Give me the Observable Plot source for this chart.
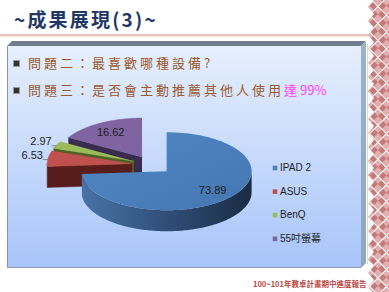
<!DOCTYPE html>
<html><head><meta charset="utf-8">
<script src="https://cdn.jsdelivr.net/npm/d3@7"></script>
<script src="https://cdn.jsdelivr.net/npm/@observablehq/plot@0.6"></script>
<style>
html,body{margin:0;padding:0;background:#fff;}
#slide{position:relative;width:389px;height:292px;overflow:hidden;background:#fff;font-family:"Noto Sans CJK TC","Noto Sans CJK SC",sans-serif;}
#title{position:absolute;left:14px;top:6px;font-size:19px;line-height:26px;font-weight:700;color:#1f3864;letter-spacing:2.2px;white-space:nowrap;}
#rule{position:absolute;left:0;top:34px;width:370px;height:2px;background:#e9c3bb;}
#rule2{position:absolute;left:0;top:36px;width:370px;height:1px;background:#f7e6e2;}
#bevelTop{position:absolute;left:7px;top:41px;width:360px;height:5px;background:#6e7e8e;clip-path:polygon(0 5px,5px 0,359px 0,354px 5px);}
#bevelRight{position:absolute;left:361px;top:41px;width:6px;height:227px;background:linear-gradient(#9fb1c8,#8ea5c4);clip-path:polygon(0 5px,5px 0,5px 222px,0 227px);}
#greenLine{position:absolute;left:367px;top:44px;width:1px;height:220px;background:#cfe4b9;}
#box{position:absolute;left:7px;top:46px;width:353px;height:221px;background:linear-gradient(#e6effd,#a8c5fa);border-left:1px solid #8797ab;border-bottom:1px solid #8c9db3;}
#deco{position:absolute;left:368px;top:0;width:21px;height:292px;overflow:hidden;}
#decoInner{position:absolute;left:-200px;top:-60px;width:420px;height:420px;transform:rotate(45deg);
 background:
  linear-gradient(#fff 1px,transparent 1px) 0 0/12px 12px,
  linear-gradient(90deg,#fff 1px,transparent 1px) 0 0/12px 12px,
  conic-gradient(#c47a7a 25%,#e0b0b0 0 50%,#c47a7a 0 75%,#e0b0b0 0) 0 0/12px 12px;}
.sq{position:absolute;width:5px;height:5px;background:#333;border:1px solid #999;}
.tx{position:absolute;left:28px;font-size:13px;line-height:16px;color:#9a5a2b;letter-spacing:3px;white-space:nowrap;}
.hl{color:#ff3dff;}
.num{letter-spacing:0;}
#footer{position:absolute;left:253px;top:279px;font-size:7.5px;line-height:10px;font-weight:700;color:#b8453f;white-space:nowrap;}
#chart{position:absolute;left:0;top:0;width:389px;height:292px;}
</style></head><body>
<svg width="0" height="0" style="position:absolute">
 <defs>
  <linearGradient id="sideBlue" x1="0" x2="1" y1="0" y2="0">
   <stop offset="0" stop-color="#4873a6"/>
   <stop offset="0.55" stop-color="#2d4b73"/>
   <stop offset="1" stop-color="#1a2b43"/>
  </linearGradient>
  <linearGradient id="topBlue" x1="0" x2="1" y1="0" y2="1">
   <stop offset="0" stop-color="#5087c4"/>
   <stop offset="1" stop-color="#4577b2"/>
  </linearGradient>
 </defs>
</svg>
<div id="slide">
 <div id="title">~成果展現(3)~</div>
 <div id="rule"></div><div id="rule2"></div>
 <div id="box"></div>
 <div id="bevelTop"></div>
 <div id="bevelRight"></div>
 <div id="greenLine"></div>
 <div id="deco"><div id="decoInner"></div></div>
 <div class="sq" style="left:13px;top:60px"></div>
 <div class="tx" style="top:55px">問題二：最喜歡哪種設備?</div>
 <div class="sq" style="left:13px;top:87px"></div>
 <div class="tx" style="top:82px">問題三：是否會主動推薦其他人使用<span class="hl">達<span class="num">99%</span></span></div>
 <div id="footer">100~101年教卓計畫期中進度報告</div>
 <div id="chart"></div>
</div>
<script>
// ---- data ----
const categories = ["IPAD 2", "ASUS", "BenQ", "55吋螢幕"];
const values = [73.89, 6.53, 2.97, 16.62];
// ---- palette ----
const topColors = ["url(#topBlue)", "#c0504d", "#9bbb59", "#8064a2"];
const swatchColors = ["#4f81bd", "#c0504d", "#9bbb59", "#8064a2"];
const sideColors = ["url(#sideBlue)", "#581d1b", "#4e6226", "#3a2c4f"];

// zigzag edge of the decoration strip
(function(){
  const left = [];
  for (let y = 0; y <= 294; y += 7) left.push(`${(y / 7) % 2 ? 0 : 6}px ${y}px`);
  document.getElementById("deco").style.clipPath =
    `polygon(21px 0, 21px 292px, ${left.reverse().join(",")})`;
})();

// ---- layout ----
const W = 389, H = 292;
const C = {x: 151.5, y: 164.5}, RX = 85, RY = 39, DEPTH = 21, EXPLODE = 20;
const K = RY / RX;
const P = (c, a, t, dz = 0) => ({x: c.x + t * RX * Math.sin(a), y: c.y - t * RY * Math.cos(a) + dz});
const arcPts = (c, a0, a1, dz) => {
  const n = Math.max(2, Math.ceil((a1 - a0) / 0.02));
  return d3.range(n + 1).map(i => P(c, a0 + (a1 - a0) * i / n, 1, dz));
};

const arcs = d3.pie().sort(null).startAngle(0).endAngle(2 * Math.PI)(values);
const slices = arcs.map((a, i) => {
  const mid = (a.startAngle + a.endAngle) / 2;
  const apex = {x: C.x + EXPLODE * Math.sin(mid), y: C.y - EXPLODE * K * Math.cos(mid)};
  return {i, a0: a.startAngle, a1: a.endAngle, mid, apex, value: values[i]};
});

const marks = [];
const poly = (pts, fill) => marks.push(Plot.line(pts, {x: "x", y: "y", fill, stroke: fill.startsWith("url") ? "none" : fill, strokeWidth: 0.4, curve: "linear"}));

slices.slice().sort((a, b) => a.apex.y - b.apex.y).forEach(s => {
  const {apex, a0, a1, i} = s;
  const down = {x: apex.x, y: apex.y + DEPTH};
  // radial cut faces
  if (Math.sin(a0) < -1e-6) poly([apex, P(apex, a0, 1), P(apex, a0, 1, DEPTH), down], sideColors[i]);
  if (Math.sin(a1) > 1e-6) poly([apex, P(apex, a1, 1), P(apex, a1, 1, DEPTH), down], sideColors[i]);
  // outer curved side (front half only)
  const lo = Math.max(a0, Math.PI / 2), hi = Math.min(a1, 3 * Math.PI / 2);
  if (hi > lo) poly([...arcPts(apex, lo, hi, 0), ...arcPts(apex, lo, hi, DEPTH).reverse()], sideColors[i]);
  // top face
  poly([apex, ...arcPts(apex, a0, a1, 0)], topColors[i]);
});

// value labels
const inside = slices.filter(s => s.value >= 10).map(s => ({...P(s.apex, s.mid, 0.74), text: s.value.toFixed(2)}));
const outside = slices.filter(s => s.value < 10).map(s => {
  const p0 = P(s.apex, s.mid, 1.0);
  return {x1: p0.x, y1: p0.y + 1, x2: p0.x - 5, y2: p0.y + 1, x: p0.x - 5, y: p0.y - 3, text: s.value.toFixed(2)};
});
const font = "'Liberation Sans', Arial, 'Noto Sans CJK TC', sans-serif";
marks.push(Plot.text(inside, {x: "x", y: "y", text: "text", fontSize: 11, fill: "#1c1c1c", fontFamily: font}));
marks.push(Plot.link(outside, {x1: "x1", y1: "y1", x2: "x2", y2: "y2", stroke: "#777", strokeWidth: 0.8}));
marks.push(Plot.text(outside, {x: "x", y: "y", text: "text", fontSize: 11, fill: "#1c1c1c", textAnchor: "end", fontFamily: font}));

// legend
const legend = categories.map((c, i) => ({c, color: swatchColors[i], x: 274.5, y: 167.5 + i * 23.6}));
marks.push(Plot.dot(legend, {x: "x", y: "y", symbol: "square", r: 2.6, fill: "color", stroke: "none"}));
marks.push(Plot.text(legend, {x: d => d.x + 5, y: "y", text: "c", textAnchor: "start", fontSize: 10, fill: "#1e1e1e", fontFamily: font}));

const chart = Plot.plot({
  width: W, height: H,
  margin: 0,
  x: {domain: [0, W], range: [0, W], axis: null},
  y: {domain: [0, H], range: [0, H], axis: null},
  color: {type: "identity"},
  style: {background: "transparent", overflow: "visible"},
  marks
});
document.getElementById("chart").appendChild(chart);
</script>
</body></html>
